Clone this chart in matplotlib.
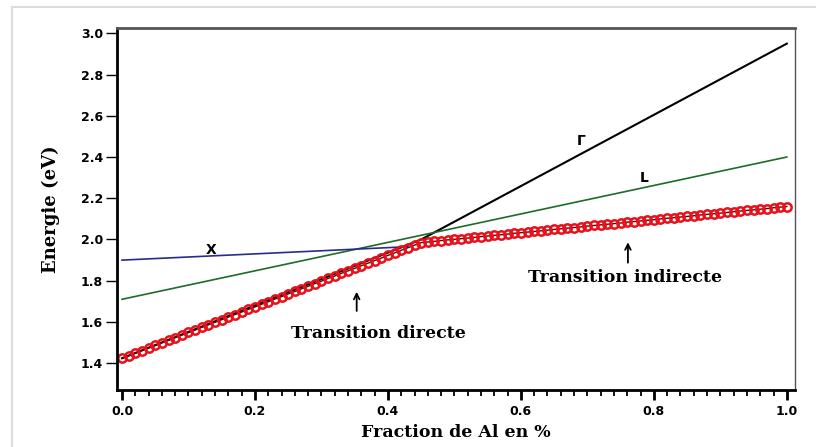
import numpy as np
import matplotlib.pyplot as plt
from matplotlib.lines import Line2D

# Gamma, L, X vallées (lignes fines)
gamma_x = [0.0, 0.45, 1.0]
gamma_y = [1.424, 2.0, 2.95]
l_x = [0.0, 1.0]
l_y = [1.71, 2.40]
x_x = [0.0, 0.43]
x_y = [1.90, 1.965]

# gap (cercles rouges)
gap_x = [0.00, 0.01, 0.02, 0.03, 0.04, 0.05, 0.06, 0.07, 0.08, 0.09,
         0.10, 0.11, 0.12, 0.13, 0.14, 0.15, 0.16, 0.17, 0.18, 0.19,
         0.20, 0.21, 0.22, 0.23, 0.24, 0.25, 0.26, 0.27, 0.28, 0.29,
         0.30, 0.31, 0.32, 0.33, 0.34, 0.35, 0.36, 0.37, 0.38, 0.39,
         0.40, 0.41, 0.42, 0.43, 0.44, 0.45, 0.46, 0.47, 0.48, 0.49,
         0.50, 0.51, 0.52, 0.53, 0.54, 0.55, 0.56, 0.57, 0.58, 0.59,
         0.60, 0.61, 0.62, 0.63, 0.64, 0.65, 0.66, 0.67, 0.68, 0.69,
         0.70, 0.71, 0.72, 0.73, 0.74, 0.75, 0.76, 0.77, 0.78, 0.79,
         0.80, 0.81, 0.82, 0.83, 0.84, 0.85, 0.86, 0.87, 0.88, 0.89,
         0.90, 0.91, 0.92, 0.93, 0.94, 0.95, 0.96, 0.97, 0.98, 0.99, 1.00]
gap_y = [1.424, 1.436, 1.449, 1.461, 1.474, 1.486, 1.499, 1.511, 1.524, 1.536,
         1.549, 1.561, 1.574, 1.586, 1.599, 1.611, 1.624, 1.636, 1.648, 1.661,
         1.673, 1.686, 1.698, 1.711, 1.723, 1.736, 1.748, 1.761, 1.773, 1.786,
         1.798, 1.811, 1.823, 1.836, 1.848, 1.860, 1.873, 1.885, 1.898, 1.910,
         1.923, 1.935, 1.948, 1.960, 1.973, 1.985, 1.988, 1.991, 1.995, 1.998,
         2.001, 2.004, 2.007, 2.010, 2.014, 2.017, 2.020, 2.023, 2.026, 2.030,
         2.033, 2.036, 2.039, 2.042, 2.045, 2.049, 2.052, 2.055, 2.058, 2.061,
         2.065, 2.068, 2.071, 2.074, 2.077, 2.080, 2.084, 2.087, 2.090, 2.093,
         2.096, 2.100, 2.103, 2.106, 2.109, 2.112, 2.115, 2.119, 2.122, 2.125,
         2.128, 2.131, 2.135, 2.138, 2.141, 2.144, 2.147, 2.150, 2.154, 2.157, 2.160]

xticks = [0.0, 0.2, 0.4, 0.6, 0.8, 1.0]
yticks = [1.4, 1.6, 1.8, 2.0, 2.2, 2.4, 2.6, 2.8, 3.0]

serif = 'DejaVu Serif'

# réglages des graduations
plt.rcParams['xtick.bottom'] = True
plt.rcParams['xtick.direction'] = 'out'
plt.rcParams['ytick.direction'] = 'out'
plt.rcParams['xtick.major.size'] = 7
plt.rcParams['xtick.major.width'] = 2.0
plt.rcParams['xtick.minor.size'] = 4
plt.rcParams['xtick.minor.width'] = 1.3
plt.rcParams['xtick.minor.visible'] = True
plt.rcParams['xtick.major.pad'] = 4
plt.rcParams['ytick.major.size'] = 8
plt.rcParams['ytick.major.width'] = 1.0
plt.rcParams['ytick.major.pad'] = 2
plt.rcParams['xtick.labelsize'] = 9
plt.rcParams['ytick.labelsize'] = 9

fig = plt.figure(figsize=(8.16, 4.47), dpi=100)
ax = fig.add_axes([0.1434, 0.1275, 0.8306, 0.8095])

ax.plot(gamma_x, gamma_y, color='black', lw=1.5)
ax.plot(l_x, l_y, color='#1f6b2a', lw=1.2)
ax.plot(x_x, x_y, color='#2a2a8c', lw=1.2)
ax.plot(gap_x, gap_y, color='#5a0000', lw=1.0, marker='o', ms=6,
        mfc='none', mec='#e8101a', mew=1.8)

ax.set_xlim(-0.0075, 1.012)
ax.set_ylim(1.27, 3.025)
ax.set_xticks(xticks)
ax.set_yticks(yticks)
ax.set_xticks(np.arange(0, 1.001, 0.02), minor=True)
ax.xaxis.set_major_formatter(plt.FormatStrFormatter('%.1f'))
ax.yaxis.set_major_formatter(plt.FormatStrFormatter('%.1f'))
ax.tick_params(axis='x', which='both', bottom=True, color='black')
for lab in ax.get_xticklabels() + ax.get_yticklabels():
    lab.set_fontweight('bold')

ax.spines['left'].set_linewidth(2.0)
ax.spines['bottom'].set_linewidth(2.0)
ax.spines['top'].set_linewidth(2.0)
ax.spines['top'].set_color('#555555')
ax.spines['right'].set_linewidth(1.0)
ax.spines['right'].set_color('#555555')

ax.set_xlabel('Fraction de Al en %', fontfamily=serif, fontweight='bold',
              fontsize=12.5, labelpad=4)
ax.set_ylabel('Energie (eV)', fontfamily=serif, fontweight='bold',
              fontsize=13, labelpad=15)

# étiquettes des vallées
ax.text(0.134, 1.947, 'X', fontsize=10, fontweight='bold', ha='center', va='center')
ax.text(0.786, 2.30, 'L', fontsize=10, fontweight='bold', ha='center', va='center')
ax.text(0.69, 2.48, 'Γ', fontsize=10, fontweight='bold', ha='center', va='center')

# transitions
ax.annotate('', xy=(0.353, 1.76), xytext=(0.353, 1.64),
            arrowprops=dict(arrowstyle='->', color='black', lw=1.3))
ax.text(0.385, 1.544, 'Transition directe', fontfamily=serif, fontweight='bold',
        fontsize=12.5, ha='center', va='center')
ax.annotate('', xy=(0.761, 2.0), xytext=(0.761, 1.874),
            arrowprops=dict(arrowstyle='->', color='black', lw=1.3))
ax.text(0.756, 1.816, 'Transition indirecte', fontfamily=serif, fontweight='bold',
        fontsize=12.5, ha='center', va='center')

# cadre gris clair autour de la figure
fig.add_artist(Line2D([12 / 816, 12 / 816], [0, 1 - 7 / 447], color='#dddddd', lw=1.5))
fig.add_artist(Line2D([12 / 816, 1], [1 - 7 / 447, 1 - 7 / 447], color='#dddddd', lw=1.5))

fig.savefig('out.png', dpi=100)
